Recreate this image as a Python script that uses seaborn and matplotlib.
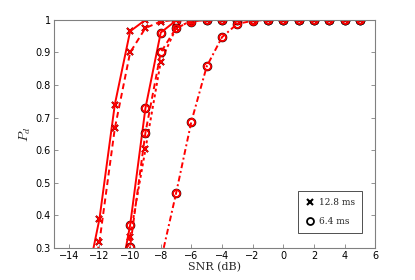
import matplotlib
matplotlib.use("Agg")
import matplotlib.pyplot as plt
import numpy as np
import pandas as pd
import seaborn as sns
from matplotlib.lines import Line2D

# SNR grid (dB)
snr_a = [-13, -12, -11, -10, -9, -8, -7, -6, -5, -4, -3, -2, -1, 0, 1, 2, 3, 4, 5]
snr_b = [-11, -10, -9, -8, -7, -6, -5, -4, -3, -2, -1, 0, 1, 2, 3, 4, 5]
snr_c = [-8, -7, -6, -5, -4, -3, -2, -1, 0, 1, 2, 3, 4, 5]

# 12.8 ms curves
pd_solid_x = [0.16, 0.39, 0.74, 0.965, 1.0, 1, 1, 1, 1, 1, 1, 1, 1, 1, 1, 1, 1, 1, 1]
pd_dash_x = [0.08, 0.32, 0.667, 0.90, 0.975, 0.995, 1, 1, 1, 1, 1, 1, 1, 1, 1, 1, 1, 1, 1]
pd_dot_x = [0.10, 0.335, 0.603, 0.872, 0.975, 0.997, 1, 1, 1, 1, 1, 1, 1, 1, 1, 1, 1]

# 6.4 ms curves
pd_solid_o = [0.12, 0.37, 0.729, 0.961, 0.998, 1, 1, 1, 1, 1, 1, 1, 1, 1, 1, 1, 1]
pd_dash_o = [0.08, 0.304, 0.654, 0.90, 0.975, 0.995, 1, 1, 1, 1, 1, 1, 1, 1, 1, 1, 1]
pd_dashdot_o = [0.26, 0.468, 0.688, 0.857, 0.947, 0.988, 0.997, 1, 1, 1, 1, 1, 1, 1]

curves = [
    (snr_a, pd_solid_x, "-", "x"),
    (snr_a, pd_dash_x, (0, (3, 2)), "x"),
    (snr_b, pd_dot_x, (0, (1.5, 1.5)), "x"),
    (snr_b, pd_solid_o, "-", "o"),
    (snr_b, pd_dash_o, (0, (3, 2)), "o"),
    (snr_c, pd_dashdot_o, (0, (3, 1.5, 1, 1.5)), "o"),
]

sns.set_style("white")
plt.rcParams["font.family"] = ["DejaVu Sans"]
plt.rcParams["mathtext.fontset"] = "cm"

fig = plt.figure(figsize=(4.15, 2.8), dpi=100)
ax = fig.add_axes([0.129, 0.114, 0.775, 0.815])

for x, y, ls, mk in curves:
    df = pd.DataFrame({"snr": x, "pd": y})
    # black markers underneath (simulation)
    sns.lineplot(data=df, x="snr", y="pd", ax=ax, linestyle="none", marker=mk,
                 markersize=5.5 if mk == "o" else 4.5, markeredgewidth=1.4,
                 markerfacecolor="none", markeredgecolor="black", color="black")
    # red analytic curve with red markers
    sns.lineplot(data=df, x="snr", y="pd", ax=ax, linestyle=ls, linewidth=1.4,
                 color="red", marker=mk, markersize=5 if mk == "o" else 4,
                 markeredgewidth=1.3, markerfacecolor="none", markeredgecolor="red")

ax.set_xlim(-15, 6)
ax.set_ylim(0.3, 1.0)
ax.set_xticks(np.arange(-14, 7, 2))
ax.set_yticks(np.arange(0.3, 1.01, 0.1))
ax.set_yticklabels(["0.3", "0.4", "0.5", "0.6", "0.7", "0.8", "0.9", "1"])
ax.set_xticklabels(["\u221214", "\u221212", "\u221210", "\u22128", "\u22126",
                    "\u22124", "\u22122", "0", "2", "4", "6"])
ax.tick_params(direction="in", length=3, width=0.6, colors="#808080",
               labelcolor="black", labelsize=7, pad=2,
               top=False, right=True, left=True, bottom=True)
for s in ax.spines.values():
    s.set_color("#808080")
    s.set_linewidth(0.8)

ax.set_xlabel("SNR (dB)", fontsize=8, family="DejaVu Serif", labelpad=1)
ax.set_ylabel("$P_d$", fontsize=10, labelpad=2)

handles = [
    Line2D([], [], linestyle="none", marker="x", color="black",
           markersize=4, markeredgewidth=1.5),
    Line2D([], [], linestyle="none", marker="o", markerfacecolor="none",
           markeredgecolor="black", markersize=5, markeredgewidth=1.3),
]
leg = ax.legend(handles, ["12.8 ms", "6.4 ms"], loc="lower right",
                bbox_to_anchor=(0.96, 0.066), frameon=True, fancybox=False,
                edgecolor="black", prop={"family": "DejaVu Serif", "size": 6.5},
                handlelength=1.0, handletextpad=0.5, labelspacing=1.1,
                borderpad=0.8, borderaxespad=0)
leg.get_frame().set_linewidth(0.6)

fig.savefig("out.png", dpi=100)
